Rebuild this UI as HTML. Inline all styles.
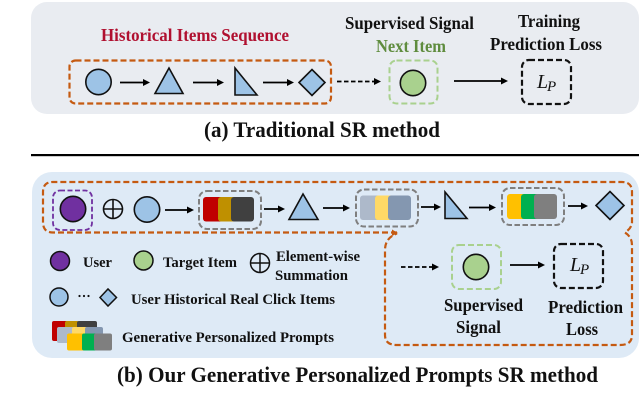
<!DOCTYPE html>
<html>
<head>
<meta charset="utf-8">
<style>
html,body{margin:0;padding:0;background:#fff;}
svg{display:block;filter:blur(0.3px);}
text{font-family:"Liberation Serif",serif;font-weight:bold;fill:#111;}
</style>
</head>
<body>
<svg width="640" height="417" viewBox="0 0 640 417" xmlns="http://www.w3.org/2000/svg">
<defs>
<marker id="a" markerWidth="8" markerHeight="8" refX="5" refY="3.500" orient="auto" markerUnits="userSpaceOnUse"><path d="M0 0L7 3.500L0 7Z" fill="#000"/></marker>
</defs>
<rect x="31" y="2" width="608" height="112" rx="16" fill="#e9ecf1"/>
<rect x="32" y="172" width="607" height="186" rx="20" fill="#deeaf6"/>
<rect x="31" y="154" width="608" height="2.200" fill="#000"/>

<!-- top -->
<rect x="69.500" y="60.500" width="261.500" height="43" rx="6" fill="none" stroke="#c55a11" stroke-width="2.200" stroke-dasharray="6 3"/>
<g fill="#9dc3e6" stroke="#111" stroke-width="1.600">
<circle cx="98.500" cy="82" r="12.700"/>
<path d="M169 68L155 93.500H183Z"/>
<path d="M235 68V95H257Z"/>
<path d="M299 82.500L312 69.500L325 82.500L312 95.500Z"/>
</g>
<g stroke="#000" stroke-width="1.800" fill="none">
<path d="M120 82.500H148" marker-end="url(#a)"/>
<path d="M193 82.500H222" marker-end="url(#a)"/>
<path d="M263 82.500H292" marker-end="url(#a)"/>
<path d="M337 81.500H379" stroke-dasharray="4.500 2.500" marker-end="url(#a)"/>
<path d="M454 81H506" marker-end="url(#a)"/>
</g>
<rect x="389.500" y="60.500" width="48" height="43" rx="7" fill="none" stroke="#a9d18e" stroke-width="2" stroke-dasharray="6 3"/>
<circle cx="413" cy="83" r="12.700" fill="#a9d18e" stroke="#111" stroke-width="1.600"/>
<rect x="522" y="60" width="49" height="44" rx="7" fill="none" stroke="#111" stroke-width="2.200" stroke-dasharray="6 3"/>
<text x="537" y="88" font-size="20" style="font-weight:normal;font-style:italic">L</text>
<text x="547" y="91" font-size="15" style="font-weight:normal;font-style:italic">P</text>

<text x="101" y="41" font-size="17.500" style="fill:#b01030" textLength="188" lengthAdjust="spacingAndGlyphs">Historical Items Sequence</text>
<text x="345" y="29" font-size="17.500" textLength="129" lengthAdjust="spacingAndGlyphs">Supervised Signal</text>
<text x="376" y="52" font-size="17.500" style="fill:#5f8c3e" textLength="70" lengthAdjust="spacingAndGlyphs">Next Item</text>
<text x="518" y="27" font-size="17.500" textLength="62" lengthAdjust="spacingAndGlyphs">Training</text>
<text x="490" y="50" font-size="17.500" textLength="112" lengthAdjust="spacingAndGlyphs">Prediction Loss</text>
<text x="204" y="137" font-size="22" textLength="236" lengthAdjust="spacingAndGlyphs">(a) Traditional SR method</text>

<!-- bottom flow -->
<path d="M397 232.500H53Q43 232.500 43 222V192Q43 182 53 182H622Q632 182 632 192V222Q632 228 625 232.500Q632 237 632 245V335Q632 345 620 345H397Q385 345 385 335V250Q385 238 397 233.500" fill="none" stroke="#c55a11" stroke-width="2.200" stroke-dasharray="6 3"/>
<path d="M392 229.500L398 233L392 236Z" fill="#c55a11"/>
<rect x="53" y="190.500" width="39" height="39.500" rx="7" fill="none" stroke="#7030a0" stroke-width="1.800" stroke-dasharray="5 2.500"/>
<circle cx="73" cy="209" r="12.700" fill="#7030a0" stroke="#111" stroke-width="1.600"/>
<g fill="none" stroke="#111" stroke-width="1.600">
<circle cx="113" cy="209" r="9.500"/><path d="M103.500 209H122.500M113 199.500V218.500"/>
</g>
<g fill="#9dc3e6" stroke="#111" stroke-width="1.600">
<circle cx="147" cy="209.500" r="12.700"/>
<path d="M303 194L289 219.500H318Z"/>
<path d="M445 192V218.500H467Z"/>
<path d="M596 205.500L610 191.500L624 205.500L610 219.500Z"/>
</g>
<g stroke="#000" stroke-width="1.800" fill="none">
<path d="M165 210H192" marker-end="url(#a)"/>
<path d="M264 209H283" marker-end="url(#a)"/>
<path d="M323 208H348" marker-end="url(#a)"/>
<path d="M421 207H439" marker-end="url(#a)"/>
<path d="M469 207.500H494" marker-end="url(#a)"/>
<path d="M568 206H586" marker-end="url(#a)"/>
<path d="M401 267H437" stroke-dasharray="4.500 2.500" marker-end="url(#a)"/>
<path d="M510 265H543" marker-end="url(#a)"/>
</g>
<g fill="none" stroke="#7f7f7f" stroke-width="2" stroke-dasharray="5.500 2.500">
<rect x="199" y="191" width="62" height="38" rx="8"/>
<rect x="356" y="189.500" width="62" height="37" rx="8"/>
<rect x="502" y="188" width="62" height="37" rx="8"/>
</g>
<rect x="203" y="197" width="24" height="24.500" rx="3" fill="#c00000"/>
<rect x="218" y="197" width="24" height="24.500" rx="3" fill="#bf9000"/>
<rect x="231" y="197" width="23" height="24.500" rx="3" fill="#404040"/>
<rect x="360" y="195.500" width="24" height="24.500" rx="3" fill="#adb9ca"/>
<rect x="375" y="195.500" width="22" height="24.500" rx="3" fill="#ffd966"/>
<rect x="388" y="195.500" width="23" height="24.500" rx="3" fill="#8497b0"/>
<rect x="507" y="194" width="20" height="25" rx="3" fill="#ffc000"/>
<rect x="521" y="194" width="20" height="25" rx="3" fill="#00b050"/>
<rect x="534" y="194" width="23" height="25" rx="3" fill="#7f7f7f"/>

<rect x="452" y="245" width="49" height="44" rx="7" fill="none" stroke="#a9d18e" stroke-width="2" stroke-dasharray="6 3"/>
<circle cx="476" cy="267" r="12.700" fill="#a9d18e" stroke="#111" stroke-width="1.600"/>
<rect x="554" y="244" width="49" height="44" rx="7" fill="none" stroke="#111" stroke-width="2.200" stroke-dasharray="6 3"/>
<text x="570" y="271" font-size="20" style="font-weight:normal;font-style:italic">L</text>
<text x="580" y="274" font-size="15" style="font-weight:normal;font-style:italic">P</text>
<text x="444" y="311" font-size="17.500" textLength="79" lengthAdjust="spacingAndGlyphs">Supervised</text>
<text x="456" y="333" font-size="17.500" textLength="45" lengthAdjust="spacingAndGlyphs">Signal</text>
<text x="548" y="313" font-size="17.500" textLength="75" lengthAdjust="spacingAndGlyphs">Prediction</text>
<text x="566" y="335" font-size="17.500" textLength="32" lengthAdjust="spacingAndGlyphs">Loss</text>

<!-- legend -->
<circle cx="60" cy="261" r="9.500" fill="#7030a0" stroke="#111" stroke-width="1.500"/>
<text x="83" y="267" font-size="15" textLength="29" lengthAdjust="spacingAndGlyphs">User</text>
<circle cx="143.500" cy="260.500" r="9.500" fill="#a9d18e" stroke="#111" stroke-width="1.500"/>
<text x="163" y="267" font-size="15" textLength="74" lengthAdjust="spacingAndGlyphs">Target Item</text>
<g fill="none" stroke="#111" stroke-width="1.500"><circle cx="260" cy="263" r="9.500"/><path d="M250.500 263H269.500M260 253.500V272.500"/></g>
<text x="276" y="261" font-size="15" textLength="84" lengthAdjust="spacingAndGlyphs">Element-wise</text>
<text x="275" y="280" font-size="15" textLength="73" lengthAdjust="spacingAndGlyphs">Summation</text>
<circle cx="59" cy="297" r="9" fill="#9dc3e6" stroke="#111" stroke-width="1.500"/>
<circle cx="79.500" cy="296" r="1.100" fill="#111"/><circle cx="84" cy="296" r="1.100" fill="#111"/><circle cx="88.500" cy="296" r="1.100" fill="#111"/>
<path d="M100 297.500L108 289L116.500 297.500L108 306Z" fill="#9dc3e6" stroke="#111" stroke-width="1.500"/>
<text x="131" y="304" font-size="15" textLength="204" lengthAdjust="spacingAndGlyphs">User Historical Real Click Items</text>

<rect x="52" y="321" width="16" height="20" rx="2" fill="#c00000"/>
<rect x="65" y="321" width="14" height="20" rx="2" fill="#bf9000"/>
<rect x="77" y="321" width="20" height="20" rx="2" fill="#404040"/>
<rect x="57" y="327" width="20" height="16" rx="2" fill="#adb9ca"/>
<rect x="72" y="327" width="16" height="16" rx="2" fill="#ffd966"/>
<rect x="85" y="327" width="18" height="16" rx="2" fill="#8497b0"/>
<rect x="67" y="333.500" width="20" height="17" rx="2" fill="#ffc000"/>
<rect x="82" y="333.500" width="16" height="17" rx="2" fill="#00b050"/>
<rect x="94" y="333.500" width="18" height="17" rx="2" fill="#7f7f7f"/>
<text x="122" y="342" font-size="15" textLength="212" lengthAdjust="spacingAndGlyphs">Generative Personalized Prompts</text>

<text x="117" y="382" font-size="22" textLength="481" lengthAdjust="spacingAndGlyphs">(b) Our Generative Personalized Prompts SR method</text>
</svg>
</body>
</html>
